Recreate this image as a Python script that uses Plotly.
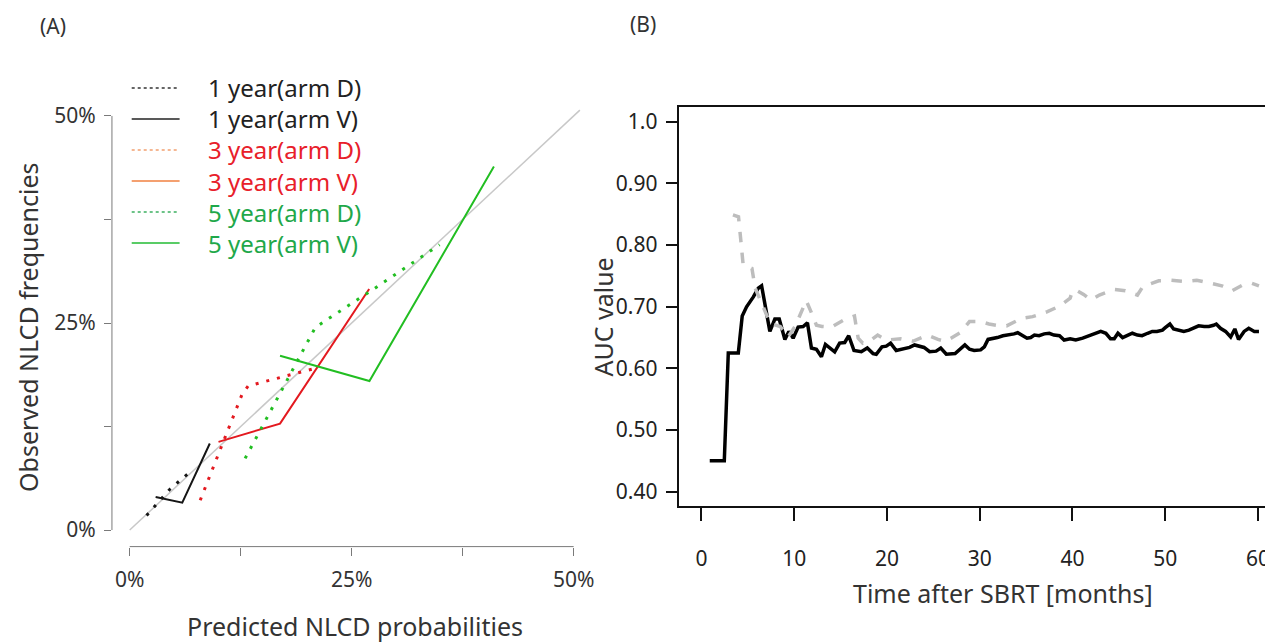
import plotly.graph_objects as go

# ---------------- Data: panel (A) calibration (percent units) ----------------
ref_line_x = [0, 50.7]
ref_line_y = [0, 50.7]

y1_D_x = [1.9, 4.5, 6.5]
y1_D_y = [1.75, 4.9, 6.75]
y1_V_x = [2.92, 5.92, 9.02]
y1_V_y = [4.0, 3.3, 10.45]

y3_D_x = [7.94, 8.91, 9.85, 10.79, 11.72, 12.66, 13.34, 14.61, 17.08, 19.58, 20.6]
y3_D_y = [3.6, 6.2, 8.65, 11.2, 13.85, 16.4, 17.4, 17.75, 18.4, 19.1, 19.45]
y3_V_x = [10.0, 16.93, 26.97]
y3_V_y = [10.65, 12.85, 29.1]

y5_D_x = [13.0, 17.3, 20.9, 22.0, 27.4, 34.9]
y5_D_y = [8.65, 17.15, 24.45, 25.25, 29.05, 34.45]
y5_V_x = [16.93, 27.0, 41.02]
y5_V_y = [21.05, 18.0, 43.9]

legend_labels = ["1 year(arm D)", "1 year(arm V)", "3 year(arm D)",
                 "3 year(arm V)", "5 year(arm D)", "5 year(arm V)"]

a_xticks = [0, 12.5, 25, 37.5, 50]
a_xticktext = ["0%", "", "25%", "", "50%"]
a_yticks = [0, 12.5, 25, 37.5, 50]
a_yticktext = ["0%", "", "25%", "", "50%"]

# ---------------- Data: panel (B) time-dependent AUC ----------------
auc_black_t = [0.9, 2.47, 2.9, 3.98, 4.4, 4.87, 5.6, 6.13, 6.49, 6.92, 7.38, 7.92, 8.39, 9.0,
               9.43, 9.89, 10.43, 10.97, 11.43, 11.86, 12.4, 12.94, 13.37, 14.37, 14.9, 15.45,
               15.88, 16.45, 17.24, 17.88, 18.5, 18.85, 19.46, 19.93, 20.4, 21.0, 21.5, 22.08,
               22.44, 22.98, 23.5, 24.0, 24.6, 25.3, 25.8, 26.4, 27.35, 27.9, 28.4, 28.9, 29.4,
               30.1, 30.5, 30.9, 31.4, 31.9, 32.5, 33.2, 33.7, 34.1, 34.5, 35.1, 35.5, 35.9,
               36.4, 36.95, 37.5, 38.0, 38.6, 39.1, 39.75, 40.35, 41.1, 42.0, 42.5, 43.05,
               43.6, 44.1, 44.5, 44.9, 45.4, 45.9, 46.45, 47.0, 47.5, 48.1, 48.6, 49.1, 49.7,
               50.0, 50.5, 50.9, 51.5, 52.0, 52.55, 53.1, 53.6, 54.2, 54.7, 55.2, 55.5, 55.95,
               56.5, 57.05, 57.5, 57.9, 58.5, 59.0, 59.6, 60.1]
auc_black_v = [0.45, 0.45, 0.625, 0.625, 0.685, 0.70, 0.716, 0.73, 0.734, 0.697, 0.66, 0.68, 0.68, 0.647,
               0.66, 0.649, 0.667, 0.668, 0.674, 0.633, 0.631, 0.619, 0.639, 0.627, 0.641, 0.642,
               0.653, 0.629, 0.627, 0.633, 0.624, 0.623, 0.635, 0.636, 0.641, 0.629, 0.631, 0.634,
               0.634, 0.638, 0.636, 0.634, 0.627, 0.628, 0.633, 0.623, 0.624, 0.631, 0.638, 0.631, 0.629,
               0.630, 0.635, 0.647, 0.648, 0.650, 0.653, 0.654, 0.656, 0.658, 0.654, 0.649, 0.650, 0.654,
               0.653, 0.656, 0.657, 0.654, 0.653, 0.646, 0.648, 0.646, 0.649, 0.654, 0.658, 0.660,
               0.657, 0.648, 0.648, 0.657, 0.650, 0.653, 0.657, 0.654, 0.653, 0.657, 0.660, 0.660, 0.662,
               0.666, 0.672, 0.664, 0.662, 0.660, 0.662, 0.666, 0.669, 0.668, 0.668, 0.670, 0.672, 0.665,
               0.660, 0.651, 0.664, 0.647, 0.660, 0.665, 0.660, 0.660]

auc_gray_t = [3.4, 4.0, 4.3, 4.5, 5.45, 5.8, 6.8, 7.4, 8.5, 9.35, 10.1, 10.6, 11.3, 11.9, 12.4,
              13.0, 14.0, 15.5, 16.5, 16.9, 17.4, 18.2, 19.0, 19.9, 21.5, 22.8, 24.4, 25.5, 26.3,
              26.9, 27.9, 28.9, 30.1, 31.0, 31.8, 32.9, 34.5, 35.7, 37.3, 38.6, 39.75, 40.0, 40.4,
              41.2, 42.0, 42.9, 44.5, 45.7, 47.0, 47.6, 49.3, 50.6, 52.2, 53.4, 55.05, 56.1, 57.2,
              58.3, 59.35, 60.1]
auc_gray_v = [0.849, 0.846, 0.80, 0.768, 0.762, 0.73, 0.695, 0.673, 0.668, 0.651, 0.668, 0.687, 0.71, 0.689, 0.67,
              0.668, 0.667, 0.68, 0.685, 0.649, 0.641, 0.645, 0.654, 0.646, 0.648, 0.644, 0.654, 0.647, 0.644,
              0.649, 0.658, 0.676, 0.676, 0.672, 0.670, 0.669, 0.681, 0.684, 0.692, 0.701, 0.714, 0.726, 0.727,
              0.72, 0.711, 0.719, 0.728, 0.726, 0.719, 0.733, 0.742, 0.743, 0.741, 0.743, 0.738, 0.734, 0.726,
              0.735, 0.738, 0.734]

b_xticks = [0, 10, 20, 30, 40, 50, 60]
b_yticks = [0.4, 0.5, 0.6, 0.7, 0.8, 0.9, 1.0]
b_yticktext = ["0.40", "0.50", "0.60", "0.70", "0.80", "0.90", "1.0"]

# ---------------- Styling ----------------
PAGE_W, PAGE_H = 1273, 642
OFF = 8  # default body margin of the html page
W, H = PAGE_W - OFF, PAGE_H - OFF
FONT = "Noto Sans"
BLACK = "#151515"
RED = "#E3191F"
GREEN = "#22BE22"
GRAYAX = "#7a7a7a"


def px(x):
    return (x - OFF) / W


def py(y):
    return 1 - (y - OFF) / H


DOT = "3px,8px"

fig = go.Figure()

# panel A
fig.add_trace(go.Scatter(x=ref_line_x, y=ref_line_y, mode="lines",
                         line=dict(color="#c8c8c8", width=1.5), xaxis="x", yaxis="y"))
fig.add_trace(go.Scatter(x=y1_D_x, y=y1_D_y, mode="lines",
                         line=dict(color=BLACK, width=3, dash=DOT), xaxis="x", yaxis="y"))
fig.add_trace(go.Scatter(x=y1_V_x, y=y1_V_y, mode="lines",
                         line=dict(color=BLACK, width=2), xaxis="x", yaxis="y"))
fig.add_trace(go.Scatter(x=y3_D_x, y=y3_D_y, mode="lines",
                         line=dict(color=RED, width=3, dash=DOT), xaxis="x", yaxis="y"))
fig.add_trace(go.Scatter(x=y3_V_x, y=y3_V_y, mode="lines",
                         line=dict(color=RED, width=2), xaxis="x", yaxis="y"))
fig.add_trace(go.Scatter(x=y5_D_x, y=y5_D_y, mode="lines",
                         line=dict(color=GREEN, width=3, dash=DOT), xaxis="x", yaxis="y"))
fig.add_trace(go.Scatter(x=y5_V_x, y=y5_V_y, mode="lines",
                         line=dict(color=GREEN, width=2), xaxis="x", yaxis="y"))

# panel B
fig.add_trace(go.Scatter(x=auc_black_t, y=auc_black_v, mode="lines",
                         line=dict(color="#000000", width=3.5), xaxis="x2", yaxis="y2"))
fig.add_trace(go.Scatter(x=auc_gray_t, y=auc_gray_v, mode="lines",
                         line=dict(color="#bdbdbd", width=3.5, dash="dash"), xaxis="x2", yaxis="y2"))

tickfont_a = dict(family=FONT, size=21, color="#333333")
tickfont_b = dict(family=FONT, size=21, color="#222222")

fig.update_layout(
    width=W, height=H, autosize=False,
    margin=dict(l=0, r=0, t=0, b=0),
    paper_bgcolor="white", plot_bgcolor="white",
    showlegend=False,
    xaxis=dict(domain=[px(112.2), px(592.8)], range=[-2, 52], anchor="y",
               showgrid=False, zeroline=False, showline=False,
               ticks="outside", ticklen=8, tickwidth=1, tickcolor=GRAYAX,
               tickvals=a_xticks, ticktext=a_xticktext, tickfont=tickfont_a,
               ticklabelstandoff=6),
    yaxis=dict(domain=[py(546.6), py(99.4)], range=[-2, 52], anchor="x",
               showgrid=False, zeroline=False, showline=False,
               ticks="outside", ticklen=7, tickwidth=1, tickcolor=GRAYAX,
               tickvals=a_yticks, ticktext=a_yticktext, tickfont=tickfont_a,
               ticklabelstandoff=4),
    xaxis2=dict(domain=[px(681), 1.0], range=[-2.37, (PAGE_W - 703) / 9.3], anchor="y2",
                showgrid=False, zeroline=False, showline=True, mirror=True,
                linecolor="#111111", linewidth=1.5,
                ticks="outside", ticklen=13, tickwidth=1.5, tickcolor="#111111",
                tickvals=b_xticks, tickfont=tickfont_b, ticklabelstandoff=20),
    yaxis2=dict(domain=[py(506), py(107)], range=[0.3768, 1.024], anchor="x2",
                showgrid=False, zeroline=False, showline=True, mirror=False,
                linecolor="#111111", linewidth=1.5,
                ticks="outside", ticklen=12, tickwidth=1.5, tickcolor="#111111",
                tickvals=b_yticks, ticktext=b_yticktext, tickfont=tickfont_b,
                ticklabelstandoff=4),
)

shapes = [
    # detached R-style axis lines for panel A
    dict(type="line", xref="x", yref="y domain", x0=0, x1=50, y0=0, y1=0,
         line=dict(color=GRAYAX, width=1)),
    dict(type="line", xref="x domain", yref="y", x0=0, x1=0, y0=0, y1=50,
         line=dict(color=GRAYAX, width=1)),
]

# manual legend: line samples + one multi-line coloured text block
leg_text_colors = ["#222222", "#222222", "#E8202A", "#E8202A", "#1FA84A", "#1FA84A"]
leg_line_colors = ["#333333", "#222222", "#F2A070", "#F08040", "#3CB060", "#22BB33"]
leg_dash = ["dot", "solid", "dot", "solid", "dot", "solid"]
ROW0, ROWSTEP = 88, 31.0
for i in range(len(legend_labels)):
    yy = ROW0 + i * ROWSTEP
    shapes.append(dict(type="line", xref="paper", yref="paper",
                       x0=px(132), x1=px(180), y0=py(yy), y1=py(yy),
                       line=dict(color=leg_line_colors[i], width=1.3 if leg_dash[i] == "dot" else 1.6,
                                 dash=leg_dash[i])))
legend_text = "<br>".join(
    f"<span style='color:{c}'>{lab}</span>" for lab, c in zip(legend_labels, leg_text_colors))
annotations = [
    dict(text=legend_text, xref="paper", yref="paper", x=px(206),
         y=py(ROW0 + 2.5 * ROWSTEP), xanchor="left", yanchor="middle", align="left",
         showarrow=False, font=dict(family=FONT, size=24, color="#222222"))
]

title_font = dict(family=FONT, size=25, color="#333333")
annotations += [
    dict(text="(A)", xref="paper", yref="paper", x=px(53), y=py(26), xanchor="center", yanchor="middle",
         showarrow=False, font=dict(family=FONT, size=21, color="#333333")),
    dict(text="(B)", xref="paper", yref="paper", x=px(645), y=py(24), xanchor="center", yanchor="middle",
         showarrow=False, font=dict(family=FONT, size=21, color="#333333")),
    dict(text="Observed NLCD frequencies", xref="paper", yref="paper", x=px(28), y=py(327),
         xanchor="center", yanchor="middle", textangle=-90, showarrow=False, font=title_font),
    dict(text="Predicted NLCD probabilities", xref="paper", yref="paper", x=px(356), y=py(626),
         xanchor="center", yanchor="middle", showarrow=False, font=title_font),
    dict(text="AUC value", xref="paper", yref="paper", x=px(604), y=py(317),
         xanchor="center", yanchor="middle", textangle=-90, showarrow=False, font=title_font),
    dict(text="Time after SBRT [months]", xref="paper", yref="paper", x=px(1005), y=py(593),
         xanchor="center", yanchor="middle", showarrow=False, font=title_font),
]

fig.update_layout(shapes=shapes, annotations=annotations)
fig.write_html("out.html")
